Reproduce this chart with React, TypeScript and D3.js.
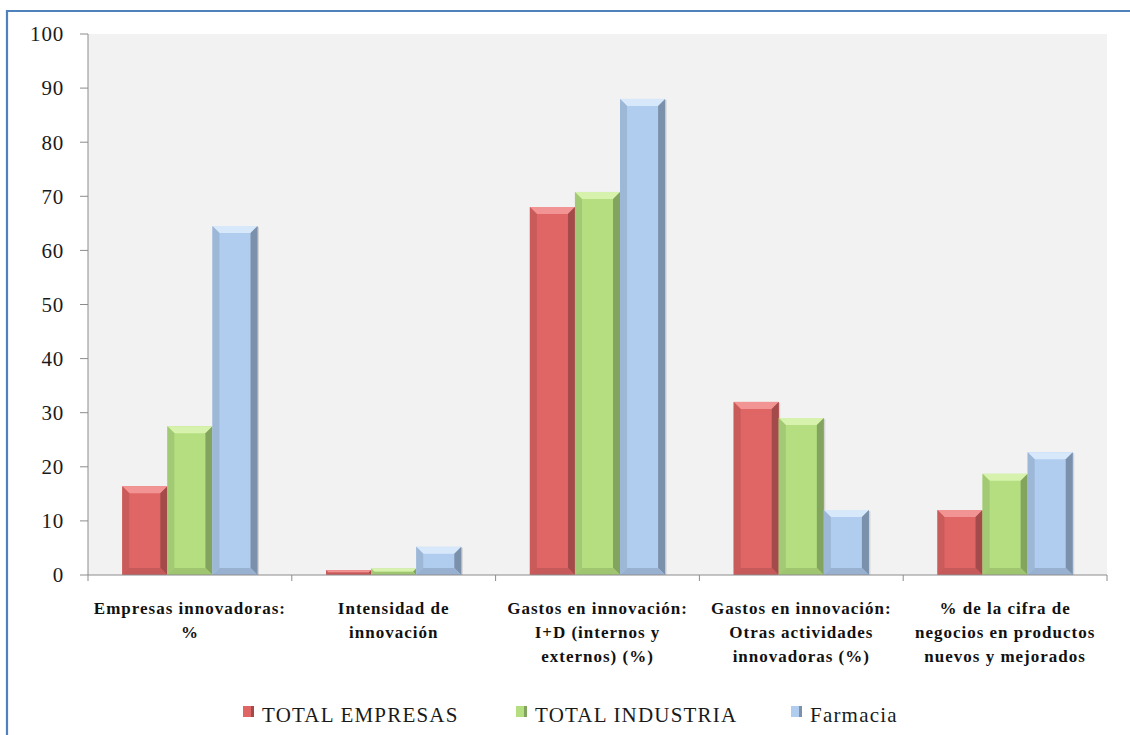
import React from "react";
import * as d3 from "d3";

const categories: string[][] = [
  ["Empresas innovadoras:", "%"],
  ["Intensidad de", "innovación"],
  ["Gastos en innovación:", "I+D (internos y", "externos) (%)"],
  ["Gastos en innovación:", "Otras actividades", "innovadoras (%)"],
  ["% de la cifra de", "negocios en productos", "nuevos y mejorados"],
];
const seriesNames = ["TOTAL EMPRESAS", "TOTAL INDUSTRIA", "Farmacia"];
const totalEmpresas = [16.4, 0.9, 68, 32, 12];
const totalIndustria = [27.5, 1.2, 70.8, 29, 18.7];
const farmacia = [64.5, 5.2, 88, 12, 22.7];
const yTicks = [0, 10, 20, 30, 40, 50, 60, 70, 80, 90, 100];

const palettes = [
  { base: "#E06666", top: "#F29494", right: "#A34A4A", left: "#C95B5B", bottom: "#C65959" },
  { base: "#B4DE80", top: "#D6F2AC", right: "#83A45E", left: "#A2C973", bottom: "#9FC570" },
  { base: "#B0CCEF", top: "#D8E8FB", right: "#7A90AB", left: "#9DB7D7", bottom: "#99B1D1" },
];

const SERIF = "Times New Roman, Liberation Serif, DejaVu Serif, serif";

export default function App() {
  const W = 1130, H = 735;
  const left = 88, right = 1107, top = 34, bottom = 575;
  const series = [totalEmpresas, totalIndustria, farmacia];
  const x0 = d3.scaleBand<number>().domain(categories.map((_, i) => i)).range([left, right]).paddingInner(0).paddingOuter(0);
  const x1 = d3.scaleBand<number>().domain([0, 1, 2]).range([0, x0.bandwidth()]).paddingOuter(0.76).paddingInner(0);
  const y = d3.scaleLinear().domain([0, 100]).range([bottom, top]);

  const bars: React.ReactNode[] = [];
  series.forEach((vals, s) => {
    vals.forEach((v, c) => {
      const bx = (x0(c) as number) + (x1(s) as number);
      const bw = x1.bandwidth();
      const by = y(v);
      const bh = bottom - by;
      const b = Math.min(7, bh / 2, bw / 2);
      const p = palettes[s];
      const pts = (a: number[][]) => a.map((q) => q.join(",")).join(" ");
      bars.push(
        <g key={`${s}-${c}`}>
          <rect x={bx + 1.5} y={by + 1} width={bw} height={bh - 1} fill="#000" opacity={0.12} />
          <rect x={bx} y={by} width={bw} height={bh} fill={p.base} />
          <polygon points={pts([[bx, by], [bx + bw, by], [bx + bw - b, by + b], [bx + b, by + b]])} fill={p.top} />
          <polygon points={pts([[bx + bw, by], [bx + bw, by + bh], [bx + bw - b, by + bh - b], [bx + bw - b, by + b]])} fill={p.right} />
          <polygon points={pts([[bx, by], [bx + b, by + b], [bx + b, by + bh - b], [bx, by + bh]])} fill={p.left} />
          <polygon points={pts([[bx, by + bh], [bx + b, by + bh - b], [bx + bw - b, by + bh - b], [bx + bw, by + bh]])} fill={p.bottom} />
        </g>
      );
    });
  });

  const legendX = [243, 516, 791];

  return (
    <svg width={W} height={H} style={{ position: "absolute", left: 0, top: 0 }} fontFamily={SERIF}>
      <rect x={0} y={0} width={W} height={H} fill="#fff" />
      <path d={`M7,${H} L7,11 L${W},11`} fill="none" stroke="#4F81BD" strokeWidth={2.2} />
      <rect x={left} y={top} width={right - left} height={bottom - top} fill="#F2F2F2" />
      {bars}
      <line x1={left} y1={top} x2={left} y2={bottom} stroke="#8C8C8C" strokeWidth={1} />
      {yTicks.map((t) => (
        <g key={t}>
          <line x1={80} x2={left} y1={y(t)} y2={y(t)} stroke="#8C8C8C" />
          <text x={64} y={y(t)} dy="0.35em" textAnchor="end" fontSize={21} letterSpacing={0.8} fill="#1a1a1a" fontFamily={SERIF}>{t}</text>
        </g>
      ))}
      <line x1={left} y1={bottom} x2={right} y2={bottom} stroke="#8C8C8C" />
      {d3.range(categories.length + 1).map((i) => {
        const xx = left + i * x0.step();
        return <line key={i} x1={xx} x2={xx} y1={bottom} y2={bottom + 6} stroke="#8C8C8C" />;
      })}
      {categories.map((lines, c) => (
        <text key={c} x={(x0(c) as number) + x0.bandwidth() / 2} textAnchor="middle" fontSize={17} letterSpacing={1} fontWeight="bold" fill="#111" fontFamily={SERIF}>
          {lines.map((l, i) => (
            <tspan key={i} x={(x0(c) as number) + x0.bandwidth() / 2} y={614 + i * 24}>{l}</tspan>
          ))}
        </text>
      ))}
      {seriesNames.map((n, i) => (
        <g key={n}>
          <rect x={legendX[i]} y={706} width={11} height={11} fill={palettes[i].base} />
          <rect x={legendX[i] + 8} y={706} width={3} height={11} fill={palettes[i].right} />
          <text x={legendX[i] + 19} y={722} fontSize={21} letterSpacing={1.2} fill="#1a1a1a" fontFamily={SERIF}>{n}</text>
        </g>
      ))}
    </svg>
  );
}
